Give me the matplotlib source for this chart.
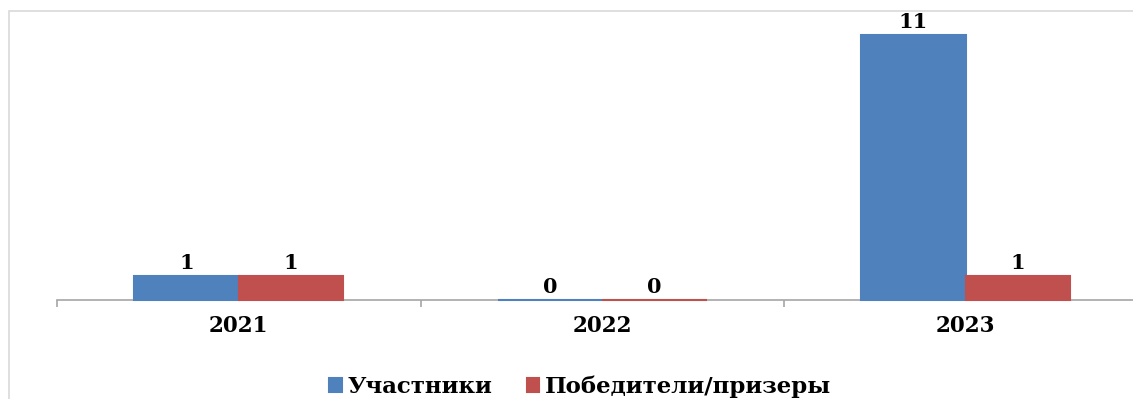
import matplotlib.pyplot as plt
import matplotlib.patches as mpatches
import numpy as np

# data
years = ["2021", "2022", "2023"]
participants = [1, 0, 11]
winners = [1, 0, 1]

BLUE = "#4F81BD"
RED = "#C0504D"
AXIS_GRAY = "#A6A6A6"

plt.rcParams["font.family"] = ["DejaVu Serif"]
plt.rcParams["font.weight"] = "bold"

fig = plt.figure(figsize=(11.33, 3.99), dpi=100)

# light outer frame of the chart area (cut off at right/bottom)
frame = mpatches.Rectangle((9 / 1133, -0.2), 1.2, 0.2 + (399 - 11) / 399,
                           transform=fig.transFigure, fill=False,
                           edgecolor="#D9D9D9", linewidth=1.2, zorder=0)
fig.patches.append(frame)

ax = fig.add_axes([57 / 1133, 99 / 399, 1090.5 / 1133, 289 / 399])
ax.patch.set_alpha(0)

x = np.arange(len(years))
w = 0.2875
b1 = ax.bar(x - w / 2, participants, w, color=BLUE, edgecolor=BLUE,
            linewidth=1.5, zorder=3, clip_on=False, label="Участники")
b2 = ax.bar(x + w / 2, winners, w, color=RED, edgecolor=RED,
            linewidth=1.5, zorder=3, clip_on=False, label="Победители/призеры")

for bars in (b1, b2):
    for rect in bars:
        h = rect.get_height()
        ax.annotate(str(int(h)), (rect.get_x() + rect.get_width() / 2, h),
                    xytext=(0, 2), textcoords="offset points",
                    ha="center", va="bottom", fontsize=15, fontweight="bold",
                    zorder=4)

ax.set_xlim(-0.5, 2.5)
ax.set_ylim(0, 12)

for side in ("left", "right", "top"):
    ax.spines[side].set_visible(False)
ax.spines["bottom"].set_color(AXIS_GRAY)
ax.spines["bottom"].set_linewidth(1.2)

ax.set_yticks([])
ax.set_xticks(x)
ax.set_xticklabels(years, fontsize=15.5, fontweight="bold")
ax.tick_params(axis="x", which="major", length=0, pad=11)
ax.set_xticks([-0.5, 0.5, 1.5, 2.5], minor=True)
ax.tick_params(axis="x", which="minor", length=5, color=AXIS_GRAY, width=1.2)

fig.legend(handles=[b1, b2], loc="center", bbox_to_anchor=(580 / 1133, 12 / 399),
           ncol=2, frameon=False, handlelength=0.55,
           handleheight=0.55, handletextpad=0.25, columnspacing=1.5,
           prop={"family": ["DejaVu Serif"], "weight": "bold", "size": 16.5})

fig.savefig("out.png", dpi=100)
